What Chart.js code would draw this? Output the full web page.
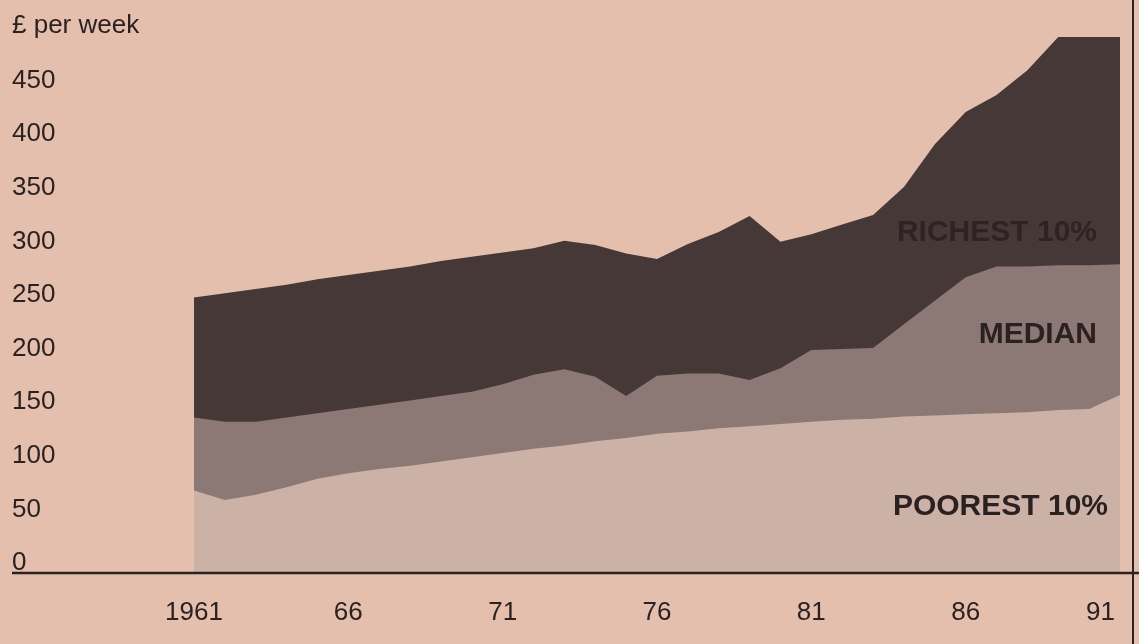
<!DOCTYPE html>
<html>
<head>
<meta charset="utf-8">
<script src="https://cdn.jsdelivr.net/npm/chart.js@4/dist/chart.umd.min.js"></script>
<style>
  html, body { margin: 0; padding: 0; background: #e4bfae; overflow: hidden; }
  canvas { display: block; }
</style>
</head>
<body>
<canvas id="chart" width="1139" height="644"></canvas>
<script>
// Weekly income, £ per week
const years = [1961, 1962, 1963, 1964, 1965, 1966, 1967, 1968, 1969, 1970,
               1971, 1972, 1973, 1974, 1975, 1976, 1977, 1978, 1979, 1980,
               1981, 1982, 1983, 1984, 1985, 1986, 1987, 1988, 1989, 1990, 1991];
const tickLabels = ['1961', '66', '71', '76', '81', '86', '91'];

const poorest = [77, 68, 73, 80, 88, 93, 97, 100, 104, 108,
                 112, 116, 119, 123, 126, 130, 132, 135, 137, 139,
                 141, 143, 144, 146, 147, 148, 149, 150, 152, 153, 166];
const median = [145, 141, 141, 145, 149, 153, 157, 161, 165, 169,
                176, 185, 190, 183, 165, 184, 186, 186, 180, 191,
                208, 209, 210, 232, 254, 276, 286, 286, 287, 287, 288];
const richest = [257, 261, 265, 269, 274, 278, 282, 286, 291, 295,
                 299, 303, 310, 306, 298, 293, 307, 318, 333, 309,
                 316, 325, 334, 360, 400, 430, 446, 469, 500, 500, 500];

const seriesNames = ['POOREST 10%', 'MEDIAN', 'RICHEST 10%'];

const ink = '#2b2121';
const tickFont = { family: '"Liberation Sans", Arial, sans-serif', size: 26 };

// Axis line, frame rule, unit label and the in-area labels
const decorations = {
    id: 'decorations',
    afterDraw(chart) {
        const { ctx, chartArea, scales } = chart;
        const y0 = scales.y.getPixelForValue(0);
        ctx.save();

        ctx.strokeStyle = ink;
        ctx.lineWidth = 2.5;
        ctx.beginPath();
        ctx.moveTo(12, y0);
        ctx.lineTo(chart.width, y0);
        ctx.stroke();

        ctx.lineWidth = 2;
        ctx.beginPath();
        ctx.moveTo(chart.width - 6, 0);
        ctx.lineTo(chart.width - 6, chart.height);
        ctx.stroke();

        ctx.fillStyle = ink;
        ctx.font = '26px "Liberation Sans", Arial, sans-serif';
        ctx.textAlign = 'left';
        ctx.textBaseline = 'middle';
        ctx.fillText('£ per week', 12, 26);

        ctx.font = 'bold 30px "Liberation Sans", Arial, sans-serif';
        ctx.textAlign = 'right';
        ctx.textBaseline = 'alphabetic';
        ctx.fillStyle = '#2e2324';
        ctx.fillText(seriesNames[2], chartArea.right - 23, scales.y.getPixelForValue(310));
        ctx.fillStyle = ink;
        ctx.fillText(seriesNames[1], chartArea.right - 23, scales.y.getPixelForValue(215));
        ctx.fillText(seriesNames[0], chartArea.right - 12, scales.y.getPixelForValue(54));
        ctx.restore();
    }
};

// last year label sits inside the frame rule, so pad it on the right
function xTick(value, index) {
    if (index % 5 !== 0) return null;
    const label = tickLabels[index / 5];
    return index === years.length - 1 ? label + '\u2003\u2002' : label;
}

const ctx = document.getElementById('chart').getContext('2d');
new Chart(ctx, {
    type: 'line',
    data: {
        labels: years,
        datasets: [
            { label: seriesNames[0], data: poorest, backgroundColor: '#ccb1a7' },
            { label: seriesNames[1], data: median, backgroundColor: '#8c7975' },
            { label: seriesNames[2], data: richest, backgroundColor: '#463837' }
        ].map(d => Object.assign(d, {
            fill: 'origin',
            borderWidth: 0,
            pointRadius: 0,
            tension: 0
        }))
    },
    options: {
        responsive: false,
        animation: false,
        layout: { padding: { left: 12, right: 19, top: 37, bottom: 0 } },
        plugins: {
            legend: { display: false },
            tooltip: { enabled: false }
        },
        scales: {
            x: {
                type: 'category',
                offset: false,
                grid: { display: false, drawTicks: false },
                border: { display: false },
                ticks: {
                    autoSkip: false,
                    maxRotation: 0,
                    padding: 24,
                    color: ink,
                    font: tickFont,
                    callback: xTick
                },
                afterFit: (scale) => {
                    scale.height = 71;
                    scale.paddingLeft = 0;
                    scale.paddingRight = 0;
                }
            },
            y: {
                min: 0,
                max: 500,
                grid: { display: false, drawTicks: false },
                border: { display: false },
                ticks: {
                    stepSize: 50,
                    crossAlign: 'far',
                    labelOffset: -10,
                    padding: 0,
                    color: ink,
                    font: tickFont,
                    callback: (value) => value === 500 ? '' : value
                },
                afterFit: (scale) => { scale.width = 182; }
            }
        }
    },
    plugins: [decorations]
});
</script>
</body>
</html>
